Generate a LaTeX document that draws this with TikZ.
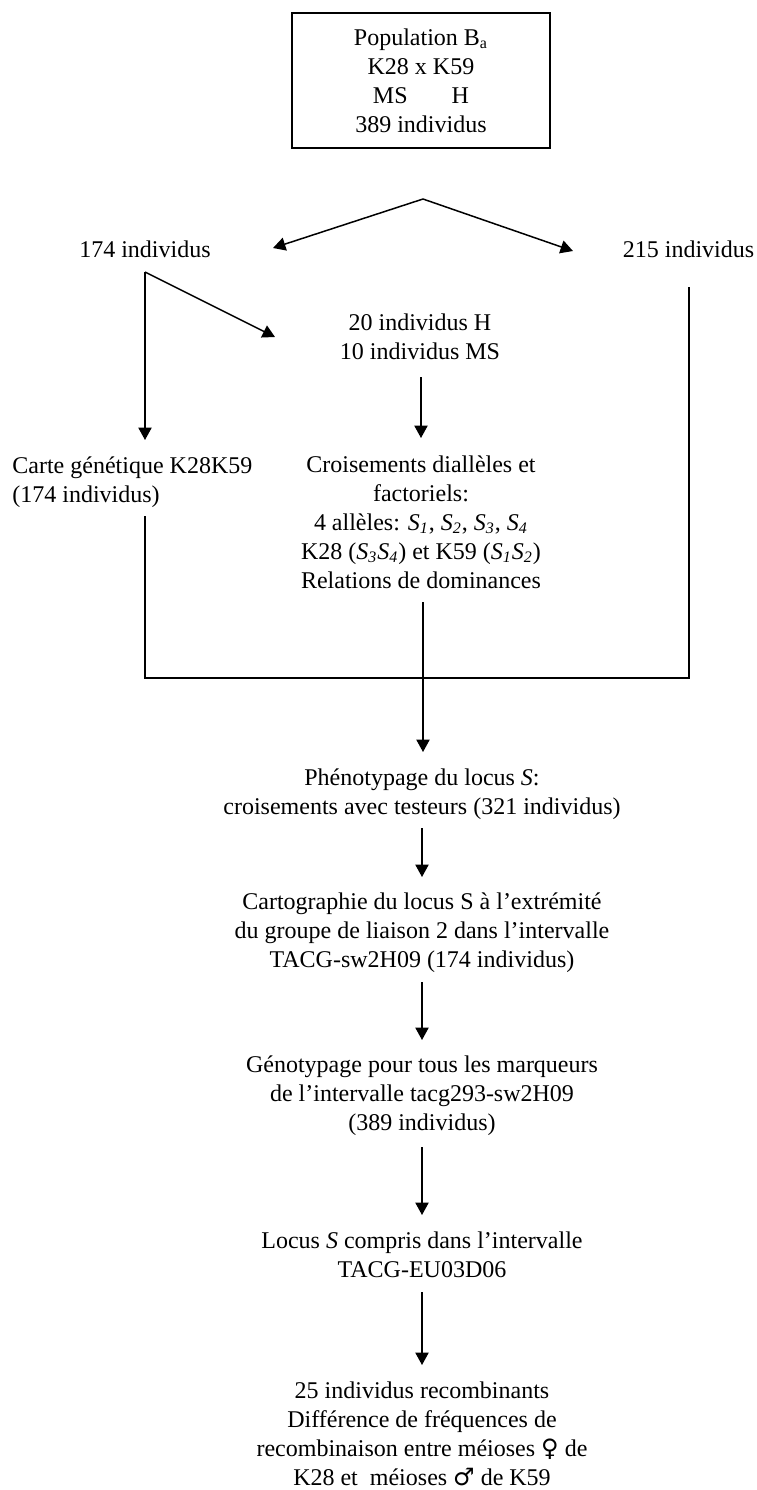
\documentclass[tikz,border=0pt]{standalone}
\usepackage{fontspec}
\setmainfont{Liberation Serif}
\newfontfamily\symfont{DejaVu Sans}
\usetikzlibrary{arrows.meta}
% italic S allele with italic index
\newcommand\Sx[1]{\textit{S}\textsubscript{\textit{#1}}}
\begin{document}
\begin{tikzpicture}[x=0.5pt,y=-0.5pt,
  txt/.style={font=\fontsize{12}{14.5}\selectfont, align=center, inner sep=0pt, anchor=base},
  conn/.style={line width=0.75pt, -{Triangle[length=6.2pt,width=6.6pt]}},
  bracket/.style={line width=1pt}]
\useasboundingbox (0,0) rectangle (756,1490);

% starting population
\node[txt, draw, line width=0.75pt, anchor=center, minimum width=129pt, minimum height=67.5pt] (pop) at (421,80.5)
  {Population B\textsubscript{a}\\K28 x K59\\MS\hspace{22pt}H\\389 individus};

% first split (text nodes are placed by the baseline of their last line)
\node[txt] (n174) at (145,257) {174 individus};
\node[txt] (n215) at (688.5,257) {215 individus};
\node[txt] (sel) at (420,359) {20 individus H\\10 individus MS};
\node[txt, align=left, anchor=base west] (carte) at (12,502) {Carte génétique K28K59\\(174 individus)};
\node[txt] (crois) at (421,588) {Croisements diallèles et\\factoriels:\\4 allèles: \Sx{1}, \Sx{2}, \Sx{3}, \Sx{4}\\K28 (\Sx{3}\Sx{4}) et K59 (\Sx{1}\Sx{2})\\Relations de dominances};

% main sequence
\node[txt] (pheno) at (422,814) {Phénotypage du locus \textit{S}:\\croisements avec testeurs (321 individus)};
\node[txt] (carto) at (422,967) {Cartographie du locus S à l’extrémité\\du groupe de liaison 2 dans l’intervalle\\TACG-sw2H09 (174 individus)};
\node[txt] (geno) at (422,1130) {Génotypage pour tous les marqueurs\\de l’intervalle tacg293-sw2H09\\(389 individus)};
\node[txt] (locus) at (422,1277) {Locus \textit{S} compris dans l’intervalle\\TACG-EU03D06};
\node[txt] (recomb) at (422,1485) {25 individus recombinants\\Différence de fréquences de\\recombinaison entre méioses {\symfont ♀} de\\K28 et~ méioses {\symfont ♂} de K59};

% connector end points
\coordinate (split) at (423,199);
\coordinate (tipL) at (273,248);
\coordinate (tipR) at (573,251);
\coordinate (fork) at (145,272);
\coordinate (tipSel) at (275,337);
\coordinate (tipCarte) at (145,440);
\coordinate (selOut) at (421,377);
\coordinate (tipCrois) at (421,438);
\coordinate (carteOut) at (145,516);
\coordinate (croisOut) at (423,602);
\coordinate (rightTop) at (689,287);
\coordinate (cornerL) at (145,678);
\coordinate (cornerR) at (689,678);
\coordinate (tipPheno) at (423,752);
\coordinate (phenoOut) at (422,828);
\coordinate (tipCarto) at (422,877);
\coordinate (cartoOut) at (422,982);
\coordinate (tipGeno) at (422,1040);
\coordinate (genoOut) at (422,1147);
\coordinate (tipLocus) at (422,1215);
\coordinate (locusOut) at (422,1292);
\coordinate (tipRecomb) at (422,1365);

% connectors
\draw[conn] (split) -- (tipL);
\draw[conn] (split) -- (tipR);
\draw[conn] (fork) -- (tipSel);
\draw[conn] (fork) -- (tipCarte);
\draw[conn] (selOut) -- (tipCrois);
\draw[bracket] (carteOut) -- (cornerL) -- (cornerR) -- (rightTop);
\draw[conn] (croisOut) -- (tipPheno);
\draw[conn] (phenoOut) -- (tipCarto);
\draw[conn] (cartoOut) -- (tipGeno);
\draw[conn] (genoOut) -- (tipLocus);
\draw[conn] (locusOut) -- (tipRecomb);
\end{tikzpicture}
\end{document}
